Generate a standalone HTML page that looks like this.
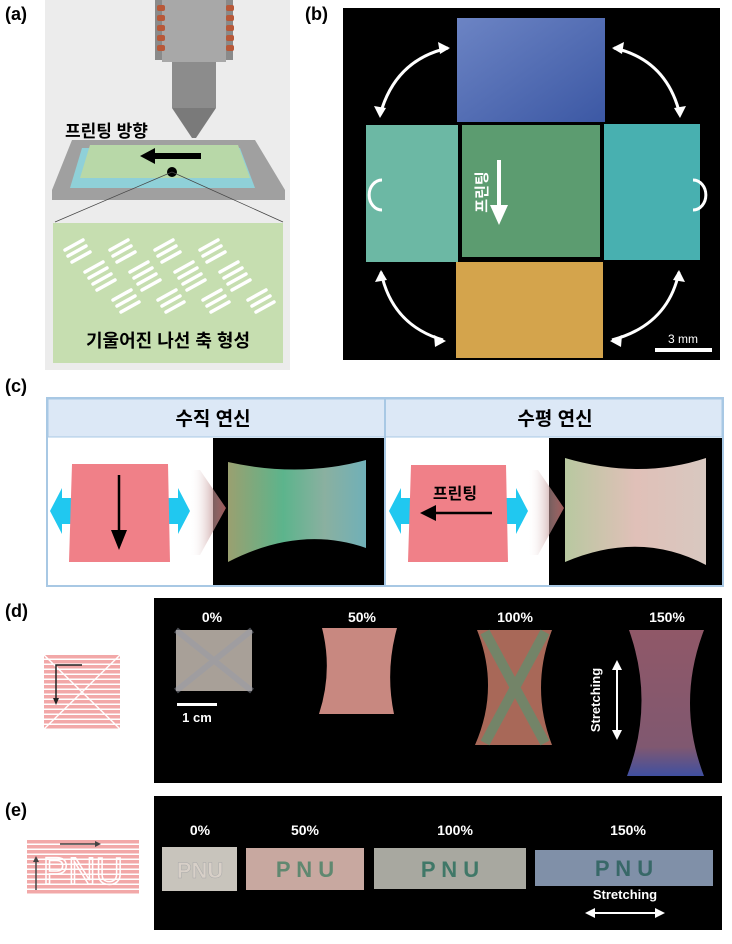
<!DOCTYPE html>
<html><head><meta charset="utf-8"><style>
body{margin:0;background:#fff;width:732px;height:939px;overflow:hidden;font-family:"Liberation Sans","Noto Sans CJK KR",sans-serif}
svg text{font-family:"Liberation Sans","Noto Sans CJK KR",sans-serif;font-weight:bold}
</style></head><body>
<svg width="732" height="939" viewBox="0 0 732 939" xmlns="http://www.w3.org/2000/svg">
<defs>
<linearGradient id="bl" x1="0" y1="0" x2="1" y2="1"><stop offset="0" stop-color="#6c84c4"/><stop offset="1" stop-color="#3c58a4"/></linearGradient>
<linearGradient id="ir" x1="0" y1="0" x2="1" y2="0"><stop offset="0" stop-color="#9aa070"/><stop offset=".4" stop-color="#5cb48c"/><stop offset=".7" stop-color="#8ab0a0"/><stop offset="1" stop-color="#70b0b8"/></linearGradient>
<linearGradient id="ir2" x1="0" y1="0" x2="1" y2="0"><stop offset="0" stop-color="#b8c8a0"/><stop offset=".5" stop-color="#e0c0b8"/><stop offset="1" stop-color="#d8c8c0"/></linearGradient>
<linearGradient id="sh" x1="0" y1="0" x2="1" y2="0"><stop offset="0" stop-color="#fff" stop-opacity="0"/><stop offset="1" stop-color="#a05858"/></linearGradient>
<linearGradient id="d150" x1="0" y1="0" x2="0" y2="1"><stop offset="0" stop-color="#905868"/><stop offset=".8" stop-color="#805870"/><stop offset="1" stop-color="#4050a0"/></linearGradient>
<pattern id="stp" width="6" height="5" patternUnits="userSpaceOnUse"><rect width="6" height="5" fill="#f2a8a8"/><rect y="3.5" width="6" height="1.5" fill="#fff"/></pattern>
</defs>
<!-- (a) -->
<text x="5" y="20" font-size="18">(a)</text>
<rect x="45" y="0" width="245" height="370" fill="#ececec"/>
<rect x="155" y="0" width="78" height="60" fill="#8a8a8a"/>
<rect x="162" y="0" width="64" height="62" fill="#a8a8a8"/>
<g fill="#b85838"><rect x="157" y="5" width="8" height="6" rx="2"/><rect x="157" y="15" width="8" height="6" rx="2"/><rect x="157" y="25" width="8" height="6" rx="2"/><rect x="157" y="35" width="8" height="6" rx="2"/><rect x="157" y="45" width="8" height="6" rx="2"/><rect x="226" y="5" width="8" height="6" rx="2"/><rect x="226" y="15" width="8" height="6" rx="2"/><rect x="226" y="25" width="8" height="6" rx="2"/><rect x="226" y="35" width="8" height="6" rx="2"/><rect x="226" y="45" width="8" height="6" rx="2"/></g>
<rect x="172" y="62" width="44" height="46" fill="#8c8c8c"/>
<polygon points="172,108 216,108 196,138 192,138" fill="#7a7a7a"/>
<polygon points="52,190 72,140 255,140 285,190 285,200 52,200" fill="#a0a0a0"/>
<polygon points="82,148 240,148 255,188 70,188" fill="#8fd0d8"/>
<polygon points="90,145 238,145 250,178 80,178" fill="#b8d8a8"/>
<text x="65" y="137" font-size="17">프린팅 방향</text>
<polygon points="140,156 155,148 155,153 201,153 201,159 155,159 155,164" fill="#000"/>
<circle cx="172" cy="172" r="5" fill="#000"/>
<line x1="172" y1="172" x2="55" y2="222" stroke="#444" stroke-width=".7"/><line x1="172" y1="172" x2="283" y2="222" stroke="#444" stroke-width=".7"/>
<rect x="53" y="223" width="230" height="140" fill="#c6deb0"/>
<g stroke="#fff" stroke-width="3.5" stroke-linecap="round">
<path d="M65,250l18,-10M68,256l18,-10M72,262l18,-10M85,272l18,-10M89,278l18,-10M93,284l18,-10M97,290l18,-10M113,300l18,-10M117,306l18,-10M121,312l18,-10"/>
<path d="M110,250l18,-10M113,256l18,-10M117,262l18,-10M130,272l18,-10M134,278l18,-10M138,284l18,-10M142,290l18,-10M158,300l18,-10M162,306l18,-10M166,312l18,-10"/>
<path d="M155,250l18,-10M158,256l18,-10M162,262l18,-10M175,272l18,-10M179,278l18,-10M183,284l18,-10M187,290l18,-10M203,300l18,-10M207,306l18,-10M211,312l18,-10"/>
<path d="M200,250l18,-10M203,256l18,-10M207,262l18,-10M220,272l18,-10M224,278l18,-10M228,284l18,-10M232,290l18,-10M248,300l18,-10M252,306l18,-10M256,312l18,-10"/>
</g>
<text x="168" y="347" font-size="18" text-anchor="middle">기울어진 나선 축 형성</text>
<!-- (b) -->
<text x="305" y="20" font-size="18">(b)</text>
<rect x="343" y="8" width="377" height="352" fill="#000"/>
<rect x="457" y="18" width="148" height="104" fill="url(#bl)"/>
<rect x="366" y="125" width="92" height="137" fill="#6cb8a4"/>
<rect x="462" y="125" width="138" height="132" fill="#5c9c70"/>
<rect x="604" y="124" width="96" height="136" fill="#48b0b0"/>
<rect x="456" y="262" width="147" height="96" fill="#d4a44c"/>
<g fill="none" stroke="#fff" stroke-width="3">
<path d="M448,48 Q395,60 380,115"/><path d="M614,48 Q667,60 680,115"/>
<path d="M381,272 Q392,325 443,340"/><path d="M679,272 Q668,325 612,340"/>
<path d="M382,180 A12,14 0 1 0 382,210"/><path d="M693,180 A12,14 0 1 1 693,210"/>
</g>
<g fill="#fff"><polygon points="450,48 438,42 440,54"/><polygon points="380,118 374,106 386,108"/><polygon points="612,48 624,42 622,54"/><polygon points="680,118 686,106 674,108"/><polygon points="381,270 375,282 387,280"/><polygon points="446,341 434,335 435,347"/><polygon points="679,270 685,282 673,280"/><polygon points="610,341 622,335 621,347"/></g>
<text transform="translate(487,192) rotate(-90)" font-size="15" fill="#fff" text-anchor="middle">프린팅</text>
<rect x="497" y="160" width="4" height="45" fill="#fff"/><polygon points="490,205 508,205 499,225" fill="#fff"/>
<rect x="655" y="348" width="57" height="4" fill="#fff"/>
<text x="683" y="343" font-size="12" fill="#fff" text-anchor="middle" style="font-weight:normal">3 mm</text>
<!-- (c) -->
<text x="5" y="392" font-size="18">(c)</text>
<rect x="47" y="398" width="676" height="188" fill="#fff" stroke="#a8c8e4" stroke-width="2"/>
<rect x="48" y="399" width="674" height="38" fill="#dce8f6" stroke="#a8c8e4" stroke-width="1"/>
<line x1="385" y1="398" x2="385" y2="586" stroke="#a8c8e4" stroke-width="2"/>
<text x="213" y="425" font-size="19" text-anchor="middle">수직 연신</text>
<text x="555" y="425" font-size="19" text-anchor="middle">수평 연신</text>
<rect x="213" y="438" width="171" height="147" fill="#000"/>
<rect x="549" y="438" width="173" height="147" fill="#000"/>
<path d="M228,462 Q300,478 366,460 L366,548 Q300,525 228,562 Z" fill="url(#ir)"/>
<path d="M565,458 Q640,480 706,458 L706,565 Q640,530 565,562 Z" fill="url(#ir2)"/>
<g fill="#20c8f0"><polygon points="50,511 62,488 62,498 72,498 72,524 62,524 62,534"/><polygon points="190,511 178,488 178,498 168,498 168,524 178,524 178,534"/><polygon points="389,511 401,488 401,498 411,498 411,524 401,524 401,534"/><polygon points="528,511 516,488 516,498 506,498 506,524 516,524 516,534"/></g>
<polygon points="72,464 168,464 170,562 69,562" fill="#f08088"/>
<polygon points="411,465 506,465 508,562 408,562" fill="#f08088"/>
<polygon points="190,470 200,470 226,508 200,555 190,555" fill="url(#sh)"/>
<polygon points="528,470 538,470 564,508 538,555 528,555" fill="url(#sh)"/>
<line x1="119" y1="475" x2="119" y2="535" stroke="#000" stroke-width="2.5"/><polygon points="111,530 127,530 119,550" fill="#000"/>
<text x="455" y="499" font-size="16" text-anchor="middle">프린팅</text>
<line x1="432" y1="513" x2="492" y2="513" stroke="#000" stroke-width="2.5"/><polygon points="420,513 436,505 436,521" fill="#000"/>
<!-- (d) -->
<text x="5" y="617" font-size="18">(d)</text>
<rect x="154" y="598" width="568" height="185" fill="#000"/>
<rect x="44" y="655" width="76" height="74" fill="url(#stp)"/>
<path d="M44,655L120,729M120,655L44,729" stroke="#fff" stroke-width="1.5"/>
<path d="M82,665H56V700" fill="none" stroke="#222" stroke-width="1.5"/><polygon points="53,698 59,698 56,705" fill="#222"/>
<g fill="#fff" font-size="14" text-anchor="middle"><text x="212" y="622">0%</text><text x="362" y="622">50%</text><text x="515" y="622">100%</text><text x="667" y="622">150%</text></g>
<rect x="176" y="630" width="76" height="61" fill="#a8a098"/>
<path d="M176,630L252,691M252,630L176,691" stroke="#989ca8" stroke-width="6" opacity=".5"/>
<path d="M322,628 L397,628 Q385,671 394,714 L319,714 Q333,671 322,628Z" fill="#c88880"/>
<path d="M477,630 L552,630 Q530,688 552,745 L475,745 Q500,688 477,630Z" fill="#a86858"/>
<path d="M629,630 L704,630 Q676,703 704,776 L627,776 Q655,703 629,630Z" fill="url(#d150)"/>
<path d="M485,632L545,743M545,632L485,743" stroke="#40a078" stroke-width="10" opacity=".5"/>
<rect x="177" y="703" width="40" height="3" fill="#fff"/>
<text x="197" y="722" font-size="13" fill="#fff" text-anchor="middle">1 cm</text>
<text transform="translate(600,700) rotate(-90)" font-size="13" fill="#fff" text-anchor="middle">Stretching</text>
<line x1="617" y1="668" x2="617" y2="732" stroke="#fff" stroke-width="2"/><polygon points="612,670 622,670 617,660" fill="#fff"/><polygon points="612,730 622,730 617,740" fill="#fff"/>
<!-- (e) -->
<text x="5" y="816" font-size="18">(e)</text>
<rect x="154" y="796" width="568" height="134" fill="#000"/>
<rect x="27" y="839" width="112" height="56" fill="url(#stp)"/>
<text x="83" y="884" font-size="38" fill="none" stroke="#fff" stroke-width="1.5" text-anchor="middle" style="font-weight:normal">PNU</text>
<line x1="60" y1="844" x2="95" y2="844" stroke="#444" stroke-width="1.5"/><polygon points="95,841 101,844 95,847" fill="#444"/>
<line x1="36" y1="890" x2="36" y2="862" stroke="#444" stroke-width="1.5"/><polygon points="33,862 36,856 39,862" fill="#444"/>
<g fill="#fff" font-size="14" text-anchor="middle"><text x="200" y="835">0%</text><text x="305" y="835">50%</text><text x="455" y="835">100%</text><text x="628" y="835">150%</text></g>
<rect x="162" y="847" width="75" height="44" fill="#c8c4bc"/>
<rect x="246" y="848" width="118" height="42" fill="#c8a8a0"/>
<rect x="374" y="848" width="152" height="41" fill="#a8a8a0"/>
<rect x="535" y="850" width="178" height="36" fill="#8090a8"/>
<g font-size="22" text-anchor="middle" fill="#407868"><text x="305" y="877" fill="#608870">P N U</text><text x="450" y="877">P N U</text><text x="624" y="876" fill="#386868">P N U</text><text x="200" y="878" fill="#d8d0c8" stroke="#aaa" stroke-width=".5">PNU</text></g>
<text x="625" y="899" font-size="13" fill="#fff" text-anchor="middle">Stretching</text>
<line x1="593" y1="913" x2="657" y2="913" stroke="#fff" stroke-width="2"/><polygon points="595,908 595,918 585,913" fill="#fff"/><polygon points="655,908 655,918 665,913" fill="#fff"/>
</svg>
</body></html>
